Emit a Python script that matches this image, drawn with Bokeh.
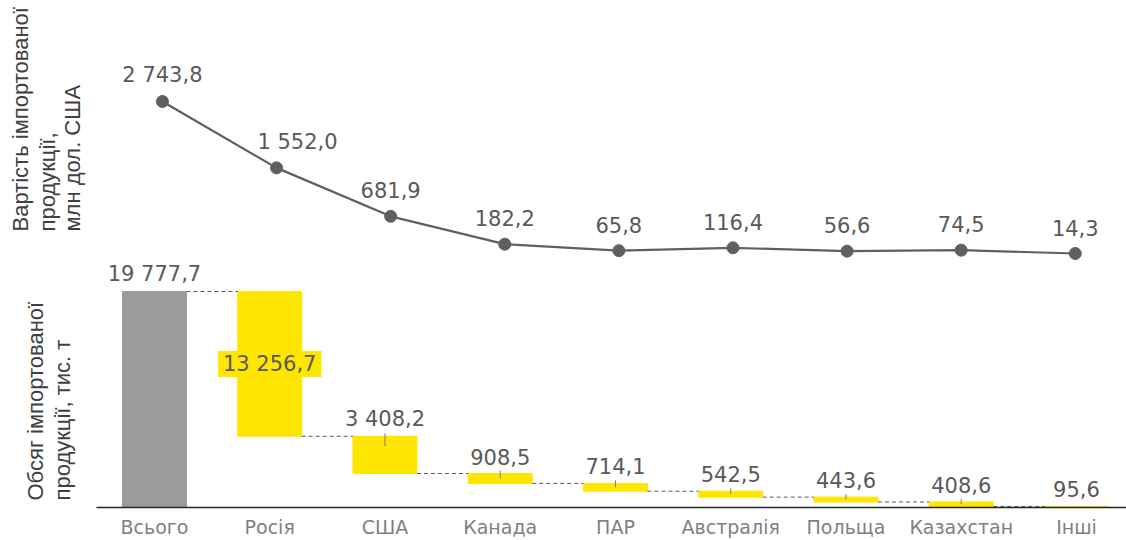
from math import pi
from bokeh.plotting import figure
from bokeh.layouts import row
from bokeh.models import ColumnDataSource, LabelSet, Label, Range1d, FixedTicker
from bokeh.core.properties import value
from bokeh.embed import file_html
from bokeh.resources import INLINE

# ---------------- data ----------------
categories = ["Всього", "Росія", "США", "Канада", "ПАР", "Австралія",
              "Польща", "Казахстан", "Інші"]
value_musd = [2743.8, 1552.0, 681.9, 182.2, 65.8, 116.4, 56.6, 74.5, 14.3]
volume_kt = [19777.7, 13256.7, 3408.2, 908.5, 714.1, 542.5, 443.6, 408.6, 95.6]

value_title = ["Вартість імпортованої", "продукції,", "млн дол. США"]
volume_title = ["Обсяг імпортованої", "продукції, тис. т"]


def fmt(v):
    return f"{v:,.1f}".replace(",", " ").replace(".", ",")


n = len(categories)
idx = list(range(n))

# waterfall geometry
tops, bottoms = [volume_kt[0]], [0.0]
level = volume_kt[0]
for v in volume_kt[1:]:
    tops.append(level)
    level = max(level - v, 0.0)
    bottoms.append(level)

YELLOW = "#FFE600"
GREY_BAR = "#9B9B9B"
TXT = "#595959"
FONT = "DejaVu Sans"

# ---------------- main chart ----------------
p = figure(width=1030, height=540, output_backend="svg", toolbar_location=None,
           x_range=Range1d(-0.503, 8.434), y_range=Range1d(0, 46421),
           min_border_left=0, min_border_right=0, min_border_top=0,
           min_border_bottom=33)
p.extra_x_ranges = {"top": Range1d(-0.578, 8.449)}
p.extra_y_ranges = {"top": Range1d(-4546, 4557)}
p.grid.visible = False
p.outline_line_color = None
p.yaxis.visible = False

# bottom axis
p.xaxis.ticker = FixedTicker(ticks=idx)
p.xaxis.major_label_overrides = {i: c for i, c in enumerate(categories)}
p.xaxis.major_tick_line_color = None
p.xaxis.minor_tick_line_color = None
p.xaxis.major_tick_out = 0
p.xaxis.major_tick_in = 0
p.xaxis.axis_line_color = "#262626"
p.xaxis.axis_line_width = 1.5
p.xaxis.major_label_standoff = 8
p.xaxis.major_label_text_font = FONT
p.xaxis.major_label_text_font_size = "19px"
p.xaxis.major_label_text_color = "#7F7F7F"

# waterfall bars
bar_src = ColumnDataSource(dict(x=idx, top=tops, bottom=bottoms,
                                color=[GREY_BAR] + [YELLOW] * (n - 1)))
p.vbar(x="x", width=0.555, top="top", bottom="bottom", color="color",
       source=bar_src)

# connectors
half = 0.555 / 2
p.segment(x0=[i + half for i in idx[:-1]], y0=tops[1:],
          x1=[i + 1 - half for i in idx[:-1]], y1=tops[1:],
          line_color=TXT, line_width=1, line_dash="4 3")

# small marks at bar tops
mi = idx[2:8]
p.segment(x0=mi, x1=mi,
          y0=[tops[i] + 280 for i in mi],
          y1=[tops[i] - min(900, volume_kt[i] * 0.5) for i in mi],
          line_color="#7F7F7F", line_width=1)

# bottom labels
lab_idx = [0] + idx[2:]
lab_src = ColumnDataSource(dict(x=lab_idx, y=[tops[i] for i in lab_idx],
                                text=[fmt(volume_kt[i]) for i in lab_idx]))
p.add_layout(LabelSet(x="x", y="y", text="text", source=lab_src, y_offset=17,
                      text_align="center", text_baseline="middle",
                      text_font=value(FONT), text_font_size="21px",
                      text_color=TXT))
p.add_layout(Label(x=1, y=(tops[1] + bottoms[1]) / 2, text=fmt(volume_kt[1]),
                   text_align="center", text_baseline="middle",
                   text_font=FONT, text_font_size="21px",
                   text_color=TXT, background_fill_color=YELLOW,
                   padding=(5, 1)))

# top line
p.line(x=idx, y=value_musd, x_range_name="top", y_range_name="top",
       line_color="#5F5F5F", line_width=2.2)
p.scatter(x=idx, y=value_musd, x_range_name="top", y_range_name="top",
          size=12, color="#5F5F5F")
top_src = ColumnDataSource(dict(x=idx, y=value_musd,
                                text=[fmt(v) for v in value_musd],
                                dx=[0, 21, 0, 0, 0, 0, 0, 0, 0]))
p.add_layout(LabelSet(x="x", y="y", text="text", source=top_src,
                      x_range_name="top", y_range_name="top",
                      x_offset="dx", y_offset=26,
                      text_align="center", text_baseline="middle",
                      text_font=value(FONT), text_font_size="21px",
                      text_color=TXT))

# ---------------- left strip with the rotated axis titles ----------------
t = figure(width=96, height=540, output_backend="svg", toolbar_location=None,
           x_range=Range1d(0, 1), y_range=Range1d(0, 1),
           min_border_left=0, min_border_right=0, min_border_top=0,
           min_border_bottom=0)
t.axis.visible = False
t.grid.visible = False
t.outline_line_color = None
for xs, line in zip([20, 47, 72], value_title):
    t.add_layout(Label(x=xs, y=276, x_units="screen", y_units="screen",
                       text=line, angle=pi / 2, text_align="left",
                       text_baseline="middle", text_font="Liberation Sans",
                       text_font_size="22px", text_color="#404040"))
for xs, line in zip([35, 62], volume_title):
    t.add_layout(Label(x=xs, y=7, x_units="screen", y_units="screen",
                       text=line, angle=pi / 2, text_align="left",
                       text_baseline="middle", text_font="Liberation Sans",
                       text_font_size="22px", text_color="#404040"))

layout = row(t, p)
open("out.html", "w").write(file_html(layout, INLINE))
